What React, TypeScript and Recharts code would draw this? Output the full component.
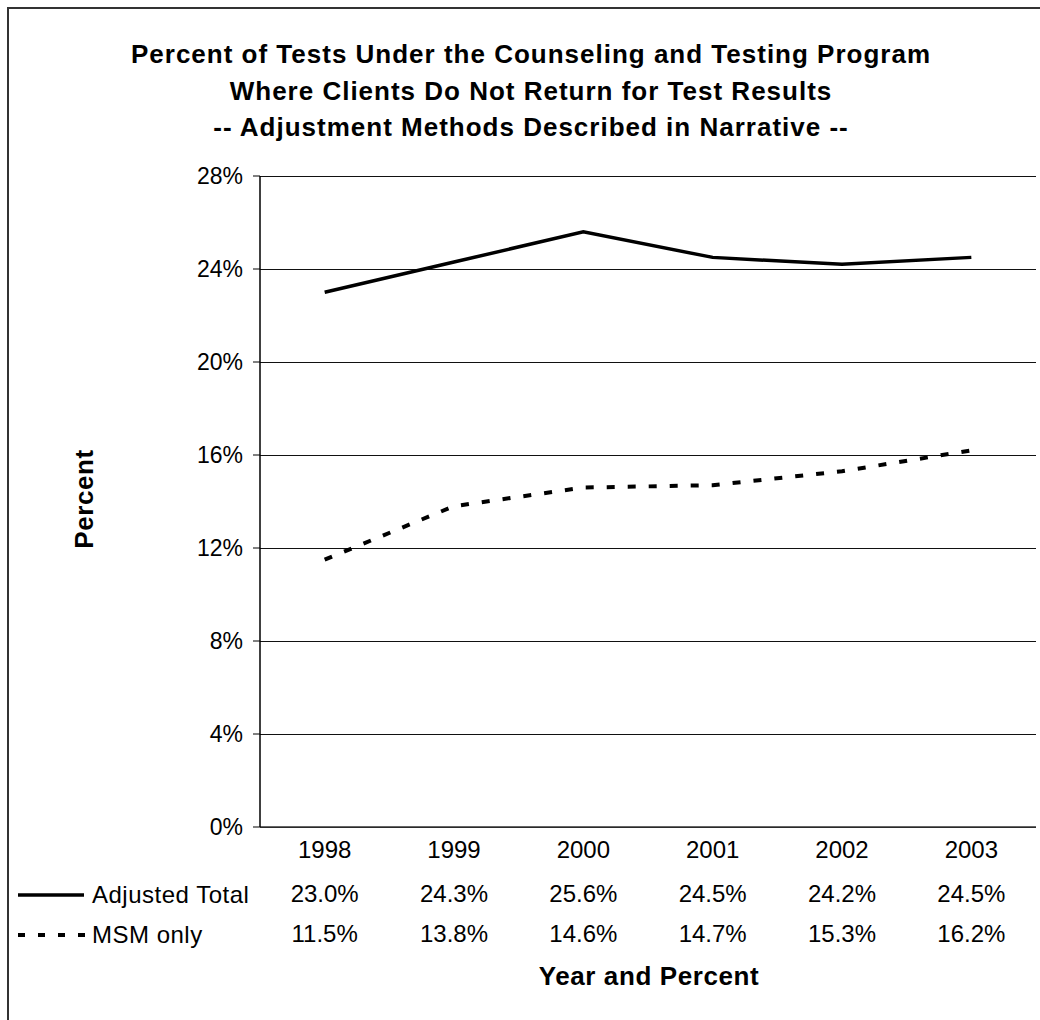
import React from 'react';
import { LineChart, Line, XAxis, YAxis, CartesianGrid } from 'recharts';

const years = ['1998', '1999', '2000', '2001', '2002', '2003'];
const adjustedTotal = [23.0, 24.3, 25.6, 24.5, 24.2, 24.5];
const msmOnly = [11.5, 13.8, 14.6, 14.7, 15.3, 16.2];
const yTicks = [0, 4, 8, 12, 16, 20, 24, 28];
const titleLines = [
  'Percent of Tests Under the Counseling and Testing Program',
  'Where Clients Do Not Return for Test Results',
  '-- Adjustment Methods Described in Narrative --',
];

const data = years.map((year, i) => ({ year, adjusted: adjustedTotal[i], msm: msmOnly[i] }));

const FONT = '"Liberation Sans", Arial, Helvetica, sans-serif';

// years + values drawn under each category, like a data table
const TableTick = (props: any) => {
  const { x, y, payload } = props;
  const i = payload.index;
  return (
    <g fontFamily={FONT} fontSize={24} fill="#000">
      <text x={x} y={y + 16} textAnchor="middle" dominantBaseline="central">{years[i]}</text>
      <text x={x} y={y + 60} textAnchor="middle" dominantBaseline="central">{adjustedTotal[i].toFixed(1)}%</text>
      <text x={x} y={y + 100} textAnchor="middle" dominantBaseline="central">{msmOnly[i].toFixed(1)}%</text>
    </g>
  );
};

export default function App() {
  const W = 1040;
  const H = 1020;
  const plotW = 776;
  const pad = plotW / years.length / 2;
  return (
    <div style={{ position: 'absolute', left: 0, top: 0, width: W, height: H, overflow: 'hidden', background: '#fff', fontFamily: FONT }}>
      <div style={{ position: 'absolute', left: 7, top: 7, width: W, height: H, border: '2px solid #333', boxSizing: 'border-box' }} />
      <div style={{ position: 'absolute', left: 0, width: 1062, top: 36, textAlign: 'center', fontWeight: 'bold', fontSize: 26, letterSpacing: 1, lineHeight: '36.5px', color: '#000' }}>
        {titleLines.map((t) => (
          <div key={t}>{t}</div>
        ))}
      </div>
      <div style={{ position: 'absolute', left: 84, top: 499, transform: 'translate(-50%, -50%) rotate(-90deg)', fontWeight: 'bold', fontSize: 26, letterSpacing: 0.6, whiteSpace: 'nowrap' }}>
        Percent
      </div>
      <div style={{ position: 'absolute', left: 649, top: 976, transform: 'translate(-50%, -50%)', fontWeight: 'bold', fontSize: 26, letterSpacing: 0.6, whiteSpace: 'nowrap' }}>
        Year and Percent
      </div>
      <svg style={{ position: 'absolute', left: 0, top: 0 }} width={W} height={H}>
        <line x1={18} y1={895} x2={84} y2={895} stroke="#000" strokeWidth={3.5} />
        <line x1={18} y1={935} x2={86} y2={935} stroke="#000" strokeWidth={4} strokeDasharray="7 13" />
        <text x={92} y={894} fontFamily={FONT} fontSize={24} letterSpacing={0.5} dominantBaseline="central">Adjusted Total</text>
        <text x={92} y={934} fontFamily={FONT} fontSize={24} letterSpacing={0.5} dominantBaseline="central">MSM only</text>
      </svg>
      <div style={{ position: 'absolute', left: 0, top: 0 }}>
        <LineChart width={W} height={H} data={data} margin={{ top: 176, right: 4, bottom: 0, left: 0 }}>
          <CartesianGrid vertical={false} horizontal stroke="#111" strokeWidth={1} shapeRendering="crispEdges" />
          <XAxis
            dataKey="year"
            height={193}
            padding={{ left: pad, right: pad }}
            tickLine={false}
            axisLine={{ stroke: '#333', strokeWidth: 1.5 }}
            tick={<TableTick />}
            tickMargin={0}
            interval={0}
          />
          <XAxis xAxisId="top" dataKey="year" orientation="top" height={0} tick={false} tickLine={false} axisLine={{ stroke: '#888', strokeWidth: 1.5 }} />
          <YAxis
            width={260}
            domain={[0, 28]}
            ticks={yTicks}
            interval={0}
            tickFormatter={(v) => `${v}%`}
            tickSize={7}
            tickMargin={10}
            tick={{ fontFamily: FONT, fontSize: 23, fill: '#000' }}
            tickLine={{ stroke: '#000' }}
            axisLine={{ stroke: '#000', strokeWidth: 1.5 }}
          />
          <YAxis yAxisId="right" orientation="right" width={0} domain={[0, 28]} tick={false} tickLine={false} axisLine={{ stroke: '#888', strokeWidth: 1.5 }} />
          <Line dataKey="adjusted" stroke="#000" strokeWidth={3.5} dot={false} isAnimationActive={false} />
          <Line dataKey="msm" stroke="#000" strokeWidth={4} strokeDasharray="8 13" dot={false} isAnimationActive={false} />
        </LineChart>
      </div>
    </div>
  );
}
